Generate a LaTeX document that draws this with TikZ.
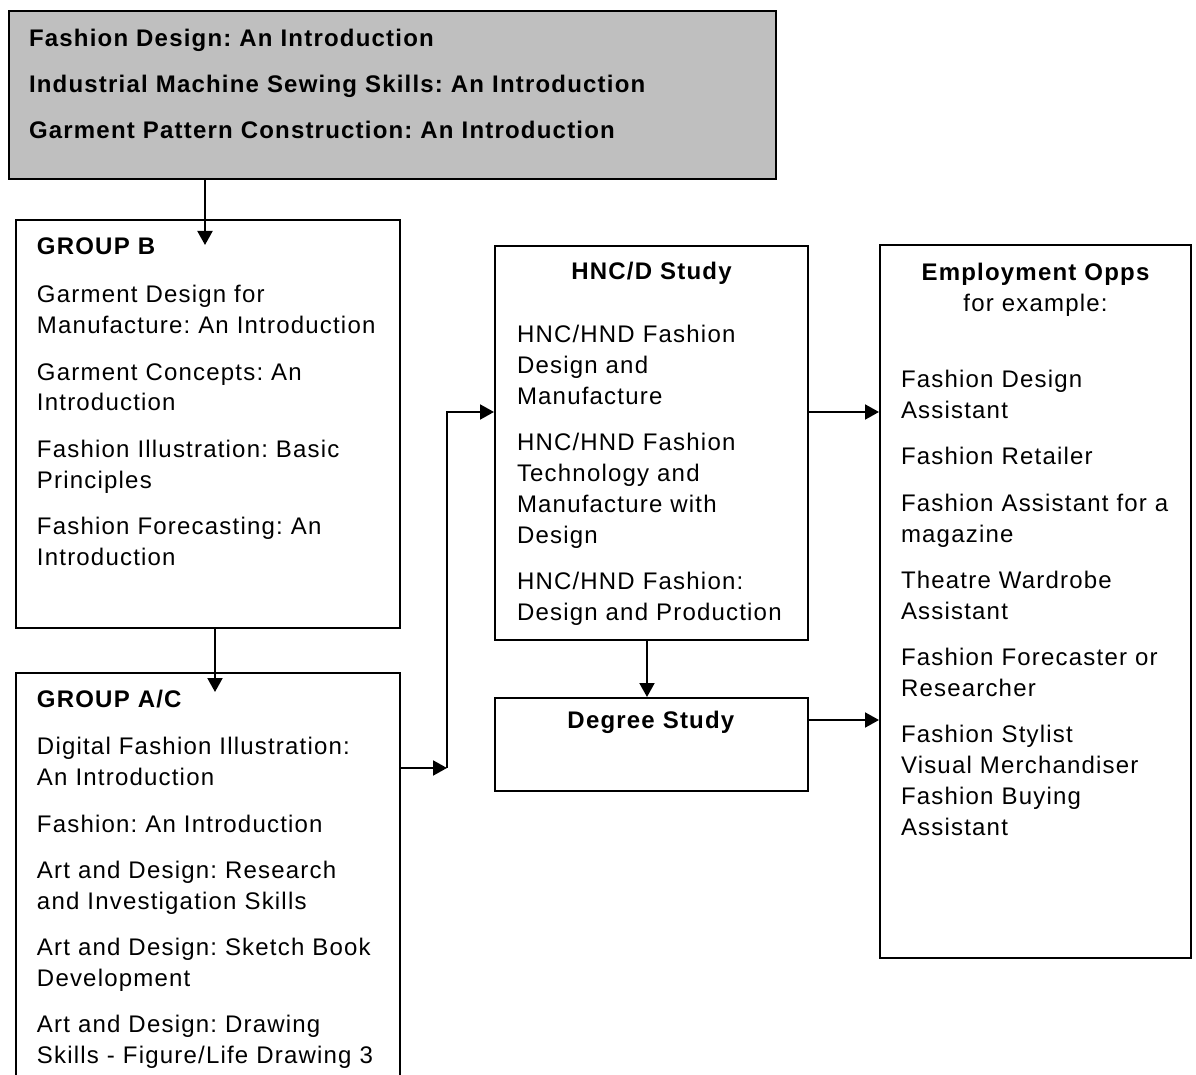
\documentclass[tikz,border=0pt]{standalone}
\usepackage{fontspec}
\setmainfont{Liberation Sans}[LetterSpace=5]
\frenchspacing
\usetikzlibrary{arrows.meta, positioning}

\begin{document}
\begin{tikzpicture}[
        x=0.5pt, y=-0.5pt,
        panel/.style={draw, line width=1pt, anchor=north west, align=left,
            inner ysep=0pt, font=\fontsize{12}{15.4}\selectfont},
        arr/.style={draw, line width=1pt, -{Triangle[length=7pt, width=7.5pt]}}
    ]
    \useasboundingbox (0,0) rectangle (1196,1075);
    \clip (0,0) rectangle (1196,1075);

    % Introductory units
    \node[panel, fill=black!25, inner xsep=10pt, text width=363.5pt,
          text height=18pt, text depth=66pt,
          font=\fontsize{12}{15.4}\selectfont\bfseries] (intro) at (8,10)
        {Fashion Design: An Introduction\\[7.6pt]
         Industrial Machine Sewing Skills: An Introduction\\[7.6pt]
         Garment Pattern Construction: An Introduction};

    % Group boxes
    \node[panel, inner xsep=10.5pt, text width=171pt,
          text height=17.5pt, text depth=186.5pt] (grpB) at (15,219)
        {\textbf{GROUP B}\\[8.6pt]
         Garment Design for\\
         Manufacture: An Introduction\\[7.8pt]
         Garment Concepts: An\\
         Introduction\\[7.8pt]
         Fashion Illustration: Basic\\
         Principles\\[7.8pt]
         Fashion Forecasting: An\\
         Introduction};

    \node[panel, inner xsep=10.5pt, text width=171pt,
          text height=17pt, text depth=212pt] (grpAC) at (15,672)
        {\textbf{GROUP A/C}\\[8.6pt]
         Digital Fashion Illustration:\\
         An Introduction\\[7.8pt]
         Fashion: An Introduction\\[7.8pt]
         Art and Design: Research\\
         and Investigation Skills\\[7.8pt]
         Art and Design: Sketch Book\\
         Development\\[7.8pt]
         Art and Design: Drawing\\
         Skills - Figure/Life Drawing 3};

    % Further study
    \node[panel, inner xsep=11pt, text width=134.5pt,
          text height=17pt, text depth=180pt] (hnc) at (494,245)
        {\makebox[\linewidth]{\bfseries HNC/D Study}\\[16.1pt]
         HNC/HND Fashion\\
         Design and\\
         Manufacture\\[7.8pt]
         HNC/HND Fashion\\
         Technology and\\
         Manufacture with\\
         Design\\[7.8pt]
         HNC/HND Fashion:\\
         Design and Production};

    \node[panel, align=center, inner xsep=11pt, text width=134.5pt,
          text height=15pt, text depth=31.5pt] (degree) at (494,697)
        {\textbf{Degree Study}};

    % Jobs
    \node[panel, inner xsep=10.5pt, text width=134.5pt,
          text height=18pt, text depth=338.5pt] (emp) at (879,244)
        {\makebox[\linewidth]{\bfseries Employment Opps}\\
         \makebox[\linewidth]{for example:}\\[22.6pt]
         Fashion Design\\
         Assistant\\[7.8pt]
         Fashion Retailer\\[7.8pt]
         Fashion Assistant for a\\
         magazine\\[7.8pt]
         Theatre Wardrobe\\
         Assistant\\[7.8pt]
         Fashion Forecaster or\\
         Researcher\\[7.8pt]
         Fashion Stylist\\
         Visual Merchandiser\\
         Fashion Buying\\
         Assistant};

    % Connections
    \coordinate (tipB) at (205,245);
    \coordinate (tipAC) at (215,692);
    \coordinate (elbow) at (447,768);

    \draw[arr] (tipB |- intro.south) -- (tipB);
    \draw[arr] (tipAC |- grpB.south) -- (tipAC);
    \draw[arr] (elbow -| grpAC.east) -- (elbow);
    \draw[arr] (elbow) |- (hnc.west |- 0,412);
    \draw[arr] (hnc.south -| 647,0) -- (degree.north -| 647,0);
    \draw[arr] (hnc.east |- 0,412) -- (emp.west |- 0,412);
    \draw[arr] (degree.east |- 0,720) -- (emp.west |- 0,720);
\end{tikzpicture}
\end{document}
